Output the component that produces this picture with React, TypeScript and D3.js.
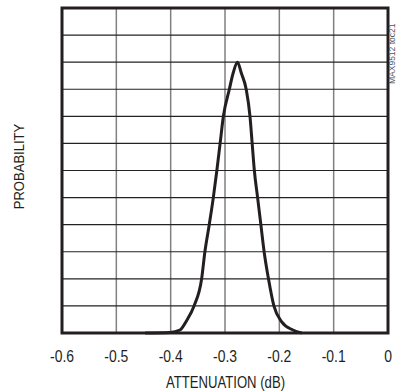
import { useEffect, useRef } from 'react';
import * as d3 from 'd3';

const xTicks = [-0.6, -0.5, -0.4, -0.3, -0.2, -0.1, 0];
const xTickLabels = ['-0.6', '-0.5', '-0.4', '-0.3', '-0.2', '-0.1', '0'];
const yDivisions = 12;

// attenuation (dB) and probability (grid divisions)
const attenuation = [
  -0.447, -0.401, -0.383, -0.37, -0.357, -0.343, -0.337, -0.329, -0.3215, -0.315,
  -0.309, -0.303, -0.292, -0.285, -0.277, -0.27, -0.261, -0.254, -0.25, -0.246,
  -0.24, -0.234, -0.228, -0.22, -0.21, -0.196, -0.175, -0.159,
];
const probability = [
  0, 0.02, 0.11, 0.48, 1, 2, 3, 4, 5, 6,
  7, 8, 9, 9.6, 10, 9.6, 9, 8, 7, 6,
  5, 4, 3, 2, 1, 0.42, 0.11, 0,
];

const FONT = '"Liberation Sans", Arial, sans-serif';
const SQUEEZE = 0.82; // fake a condensed face

const ProbabilityChart = () => {
  const svgRef = useRef<SVGSVGElement>(null);

  useEffect(() => {
    const width = 397;
    const height = 391;
    const left = 62, right = 388, top = 8, bottom = 333;

    const svg = d3.select(svgRef.current);
    svg.selectAll('*').remove();
    svg.attr('width', width).attr('height', height);

    const x = d3.scaleLinear().domain([-0.6, 0]).range([left, right]);
    const y = d3.scaleLinear().domain([0, yDivisions]).range([bottom, top]);

    // grid
    svg.append('g')
      .selectAll('line')
      .data(xTicks.slice(1, -1))
      .enter()
      .append('line')
      .attr('x1', d => x(d)).attr('x2', d => x(d))
      .attr('y1', top).attr('y2', bottom)
      .attr('stroke', '#808080')
      .attr('stroke-width', 1.5);

    svg.append('g')
      .selectAll('line')
      .data(d3.range(1, yDivisions))
      .enter()
      .append('line')
      .attr('x1', left).attr('x2', right)
      .attr('y1', d => y(d)).attr('y2', d => y(d))
      .attr('stroke', '#222')
      .attr('stroke-width', 1.2);

    // curve
    const pts: [number, number][] = attenuation.map((a, i) => [a, probability[i]]);
    const line = d3.line<[number, number]>()
      .x(d => x(d[0]))
      .y(d => y(d[1]))
      .curve(d3.curveMonotoneX);

    svg.append('path')
      .attr('d', line(pts))
      .attr('fill', 'none')
      .attr('stroke', '#231f20')
      .attr('stroke-width', 3)
      .attr('stroke-linejoin', 'round');

    // frame
    svg.append('rect')
      .attr('x', left).attr('y', top)
      .attr('width', right - left).attr('height', bottom - top)
      .attr('fill', 'none')
      .attr('stroke', '#231f20')
      .attr('stroke-width', 3);

    // tick labels
    svg.append('g')
      .selectAll('text')
      .data(xTicks)
      .enter()
      .append('text')
      .attr('transform', d => `translate(${x(d)}, 362) scale(${SQUEEZE}, 1)`)
      .attr('text-anchor', 'middle')
      .style('font-family', FONT)
      .style('font-size', '17px')
      .attr('fill', '#231f20')
      .text((d, i) => xTickLabels[i]);

    svg.append('text')
      .attr('transform', `translate(${(left + right) / 2 + 0.5}, 388) scale(${SQUEEZE}, 1)`)
      .attr('text-anchor', 'middle')
      .style('font-family', FONT)
      .style('font-size', '16px')
      .attr('fill', '#231f20')
      .text('ATTENUATION (dB)');

    svg.append('text')
      .attr('transform', `translate(24, ${(top + bottom) / 2 - 4}) rotate(-90) scale(${SQUEEZE + 0.05}, 1)`)
      .attr('text-anchor', 'middle')
      .style('font-family', FONT)
      .style('font-size', '15px')
      .attr('fill', '#231f20')
      .text('PROBABILITY');

    svg.append('text')
      .attr('transform', 'translate(395, 84) rotate(-90)')
      .attr('text-anchor', 'start')
      .style('font-family', FONT)
      .style('font-size', '8.5px')
      .attr('fill', '#555')
      .text('MAX9512 toc21');
  }, []);

  return <svg ref={svgRef} style={{ position: 'absolute', left: 0, top: 0 }} />;
};

export default function App() {
  return <ProbabilityChart />;
}
